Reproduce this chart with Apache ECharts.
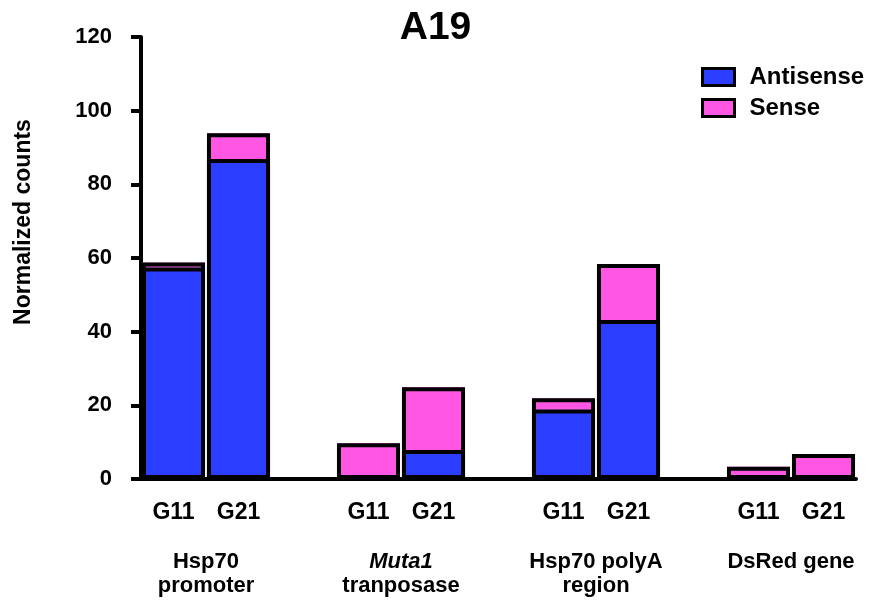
<!DOCTYPE html>
<html>
<head>
<meta charset="utf-8">
<script src="https://cdn.jsdelivr.net/npm/echarts@6/dist/echarts.min.js"></script>
<style>
  html, body { margin: 0; padding: 0; background: #fff; }
  #chart { width: 871px; height: 607px; }
</style>
</head>
<body>
<div id="chart"></div>
<script>
// Sample slots: each gene region has G11 and G21, followed by an empty spacer slot
const slots = ['G11', 'G21', '', 'G11', 'G21', '', 'G11', 'G21', '', 'G11', 'G21'];
const antisense = [57.4, 86.9, null, 0, 7.9, null, 18.9, 43.2, null, 0, 0];
const sense = [1.4, 7.0, null, 9.7, 17.0, null, 3.0, 15.2, null, 3.3, 6.8];
// Gene region labels, centred between each pair of bars
const regionPositions = [1, 4, 7, 10];
const regionLabels = ['{b|Hsp70}\n{b|promoter}', '{i|Muta1}\n{b|tranposase}', '{b|Hsp70 polyA}\n{b|region}', '{b|DsRed gene}'];
const yTicks = { min: 0, max: 120, interval: 20 };

// Stack totals, used for the heavy outline around each stacked bar
const totals = antisense.map((a, i) => (a === null && sense[i] === null) ? null : (a || 0) + (sense[i] || 0));

const FONT = '"Liberation Sans", Arial, sans-serif';
const BLUE = '#2b3dff';
const PINK = '#ff57e3';
const GAP = '3%';

const chart = echarts.init(document.getElementById('chart'));

// Transparent bar drawn on top of the fills, used only for its black frame
const frame = (name, data) => ({
  name: name,
  type: 'bar',
  barGap: '-100%',
  barCategoryGap: GAP,
  silent: true,
  itemStyle: { color: 'rgba(0,0,0,0)', borderColor: '#000', borderWidth: 4 },
  data: data
});

chart.setOption({
  animation: false,
  backgroundColor: '#fff',
  title: {
    text: 'A19',
    left: 'center',
    top: 4,
    textStyle: { fontFamily: FONT, fontWeight: 'bold', fontSize: 39, color: '#000' }
  },
  legend: {
    orient: 'vertical',
    left: 701,
    top: 65,
    padding: 0,
    itemWidth: 32,
    itemHeight: 17,
    itemGap: 7,
    icon: 'rect',
    data: [
      { name: 'Antisense', itemStyle: { color: BLUE, borderColor: '#000', borderWidth: 3 } },
      { name: 'Sense', itemStyle: { color: PINK, borderColor: '#000', borderWidth: 3 } }
    ],
    textStyle: { fontFamily: FONT, fontWeight: 'bold', fontSize: 24, color: '#000', padding: [0, 0, 0, 10] }
  },
  grid: { left: 141, right: 15, top: 37, bottom: 128, containLabel: false },
  xAxis: [
    {
      type: 'category',
      data: slots,
      boundaryGap: true,
      axisLine: { lineStyle: { color: '#000', width: 4 } },
      axisTick: { show: false },
      axisLabel: {
        interval: 0,
        margin: 22,
        fontFamily: FONT, fontWeight: 'bold', fontSize: 23, color: '#000'
      }
    },
    {
      type: 'value',
      position: 'bottom',
      min: 0,
      max: slots.length,
      axisLine: { show: false },
      axisTick: { show: false },
      splitLine: { show: false },
      axisLabel: {
        customValues: regionPositions,
        margin: 71,
        showMinLabel: true,
        showMaxLabel: true,
        formatter: (v) => regionLabels[regionPositions.indexOf(v)] || '',
        rich: {
          b: { fontFamily: FONT, fontWeight: 'bold', fontSize: 22, color: '#000', lineHeight: 24 },
          i: { fontFamily: FONT, fontWeight: 'bold', fontStyle: 'italic', fontSize: 22, color: '#000', lineHeight: 24 }
        }
      }
    }
  ],
  yAxis: {
    type: 'value',
    min: yTicks.min,
    max: yTicks.max,
    interval: yTicks.interval,
    axisLine: { show: true, lineStyle: { color: '#000', width: 4 } },
    axisTick: { show: true, inside: false, length: 10, lineStyle: { color: '#000', width: 4 } },
    splitLine: { show: false },
    axisLabel: { margin: 29, fontFamily: FONT, fontWeight: 'bold', fontSize: 22, color: '#000' }
  },
  graphic: [
    {
      type: 'text',
      x: 24,
      y: 222,
      rotation: Math.PI / 2,
      style: {
        text: 'Normalized counts',
        fontFamily: FONT, fontWeight: 'bold', fontSize: 23, fill: '#000',
        align: 'center', verticalAlign: 'middle'
      }
    }
  ],
  series: [
    {
      name: 'Antisense',
      type: 'bar',
      stack: 'counts',
      barCategoryGap: GAP,
      itemStyle: { color: BLUE },
      data: antisense
    },
    {
      name: 'Sense',
      type: 'bar',
      stack: 'counts',
      itemStyle: { color: PINK },
      data: sense
    },
    frame('antisenseFrame', antisense),
    frame('totalFrame', totals)
  ]
});
</script>
</body>
</html>
